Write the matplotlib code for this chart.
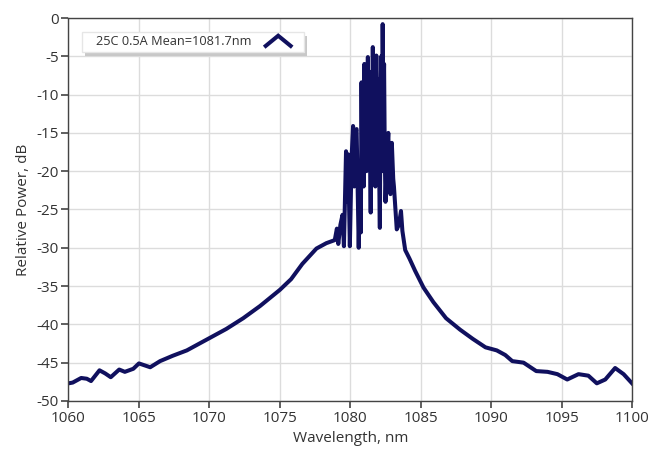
import matplotlib
matplotlib.use("Agg")
import matplotlib.pyplot as plt
from matplotlib.lines import Line2D
from matplotlib.patches import Rectangle
from matplotlib.legend_handler import HandlerBase

plt.rcParams['font.family'] = ['Open Sans', 'DejaVu Sans']
plt.rcParams['axes.unicode_minus'] = False

# Spectrum: left wing, emission band, right wing
wl_left = [1060.0, 1060.3, 1060.9, 1061.3, 1061.6, 1062.2, 1062.6, 1063.0, 1063.6, 1064.0,
           1064.6, 1065.0, 1065.8, 1066.5, 1067.4, 1068.4, 1069.3, 1070.1, 1071.2, 1072.4,
           1073.6, 1075.0, 1075.8, 1076.6, 1077.6, 1078.3, 1078.9]
db_left = [-47.7, -47.6, -47.0, -47.1, -47.4, -46.0, -46.4, -46.9, -45.9, -46.2,
           -45.8, -45.1, -45.6, -44.8, -44.1, -43.4, -42.5, -41.7, -40.6, -39.2,
           -37.6, -35.5, -34.1, -32.1, -30.1, -29.4, -29.0]

wl_peak = [1079.05, 1079.15, 1079.3, 1079.45, 1079.55, 1079.7, 1079.78, 1079.85, 1079.97, 1080.1,
           1080.2, 1080.28, 1080.35, 1080.45, 1080.6, 1080.7, 1080.75, 1080.8, 1080.85, 1080.9,
           1080.95, 1081.0, 1081.05, 1081.1, 1081.15, 1081.25, 1081.3, 1081.35, 1081.45, 1081.5,
           1081.55, 1081.6, 1081.65, 1081.7, 1081.78, 1081.85, 1081.9, 1081.95, 1082.05, 1082.1,
           1082.15, 1082.2, 1082.25, 1082.3, 1082.35, 1082.4, 1082.45, 1082.5, 1082.6, 1082.7,
           1082.78, 1082.85, 1082.95, 1083.05, 1083.1, 1083.3, 1083.45, 1083.6, 1083.7]
db_peak = [-27.5, -29.5, -27.0, -25.7, -29.8, -17.4, -24.0, -17.8, -29.8, -18.0,
           -14.1, -22.0, -14.8, -14.5, -30.0, -20.0, -28.0, -8.4, -20.0, -9.0,
           -22.0, -6.0, -18.0, -8.0, -20.0, -5.1, -15.0, -7.0, -25.4, -10.0,
           -20.0, -3.8, -18.0, -6.0, -22.0, -4.9, -14.0, -8.0, -20.0, -27.4,
           -10.0, -5.0, -20.0, -0.8, -12.0, -6.0, -18.0, -24.0, -18.0, -15.0,
           -21.0, -23.0, -16.3, -21.0, -22.0, -27.6, -27.0, -25.2, -27.8]

wl_right = [1083.9, 1084.2, 1084.6, 1085.2, 1085.9, 1086.8, 1087.8, 1088.7, 1089.6, 1090.4,
            1091.0, 1091.5, 1092.3, 1093.2, 1094.0, 1094.7, 1095.4, 1096.2, 1096.9, 1097.5,
            1098.1, 1098.8, 1099.4, 1100.0]
db_right = [-30.3, -31.4, -33.0, -35.2, -37.1, -39.2, -40.7, -41.9, -43.0, -43.4,
            -44.0, -44.8, -45.0, -46.1, -46.2, -46.5, -47.2, -46.5, -46.7, -47.7,
            -47.2, -45.7, -46.5, -47.7]

wavelength = wl_left + wl_peak + wl_right
power = db_left + db_peak + db_right

series_label = "25C 0.5A Mean=1081.7nm"
x_ticks = [1060, 1065, 1070, 1075, 1080, 1085, 1090, 1095, 1100]
y_ticks = [0, -5, -10, -15, -20, -25, -30, -35, -40, -45, -50]

LINE_COLOR = '#10105e'
TEXT_COLOR = '#333333'


class ChevronHandler(HandlerBase):
    def create_artists(self, legend, orig_handle, xdescent, ydescent, width, height,
                       fontsize, trans):
        x0 = -xdescent
        y0 = -ydescent
        xs = [x0, x0 + width * 0.5, x0 + width]
        ys = [y0, y0 + height, y0]
        ln = Line2D(xs, ys, color=orig_handle.get_color(), lw=orig_handle.get_linewidth(),
                    solid_joinstyle='miter', transform=trans)
        return [ln]


fig = plt.figure(figsize=(6.63, 4.5), dpi=100)
ax = fig.add_axes([0.1033, 0.109, 0.850, 0.851])

line, = ax.plot(wavelength, power, color=LINE_COLOR, lw=2.9, label=series_label,
                solid_joinstyle='round')

ax.set_xlim(1060, 1100)
ax.set_ylim(-50, 0)
ax.set_xticks(x_ticks)
ax.set_yticks(y_ticks)
ax.grid(True, color='#dcdcdc', lw=1.0)
ax.set_axisbelow(True)

for s in ax.spines.values():
    s.set_color('#444444')
    s.set_linewidth(1.0)
ax.tick_params(direction='out', length=5, width=1.2, color='#444444',
               labelsize=11, labelcolor=TEXT_COLOR, pad=2)
ax.set_xlabel("Wavelength, nm", fontsize=11, color=TEXT_COLOR, labelpad=4)
ax.set_ylabel("Relative Power, dB", fontsize=11, color=TEXT_COLOR, labelpad=4)

# legend frame with soft shadow (drawn as patches in axes coordinates)
bx0, bx1, by0, by1 = 0.024, 0.418, 0.912, 0.964
ax.add_patch(Rectangle((bx0 + 0.006, by0 - 0.010), bx1 - bx0, by1 - by0,
                       transform=ax.transAxes, facecolor='#c8c8c8', edgecolor='none',
                       zorder=4))
ax.add_patch(Rectangle((bx0, by0), bx1 - bx0, by1 - by0, transform=ax.transAxes,
                       facecolor='white', edgecolor='#e6e6e6', lw=1.0, zorder=4.1))

leg = ax.legend(handles=[line], handler_map={Line2D: ChevronHandler()},
                loc='center left', bbox_to_anchor=(0.048, 0.938), markerfirst=False,
                fontsize=9.2, handlelength=1.95, handleheight=0.85, handletextpad=1.15,
                borderpad=0.0, borderaxespad=0.0, frameon=False)
leg.set_zorder(5)
for t in leg.get_texts():
    t.set_color(TEXT_COLOR)

fig.savefig("out.png", dpi=100)
